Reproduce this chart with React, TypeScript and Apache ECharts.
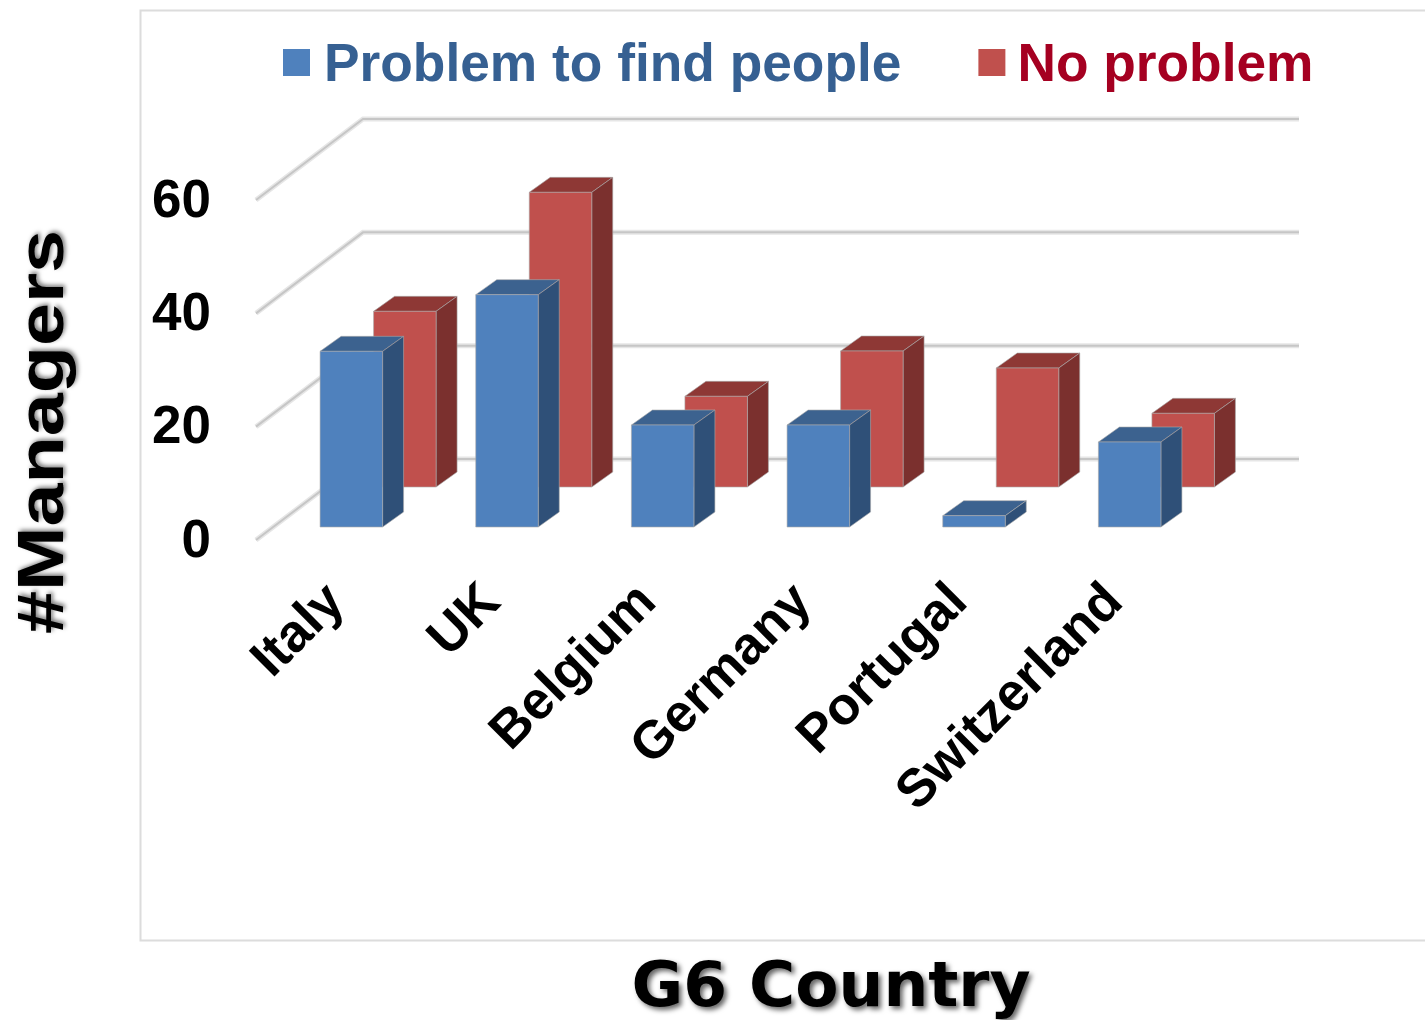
import React, { useEffect, useRef } from "react";
import * as echarts from "echarts";

const categories = ["Italy", "UK", "Belgium", "Germany", "Portugal", "Switzerland"];
const problemValues = [31, 41, 18, 18, 2, 15];
const noProblemValues = [31, 52, 16, 24, 21, 13];
const gridTicks = [0, 20, 40, 60];
const seriesProblem = "Problem to find people";
const seriesNoProblem = "No problem";

const SANS = "'Liberation Sans', Arial, sans-serif";

function cuboid(
  offsetX: number,
  offsetY: number,
  colors: { front: string; top: string; side: string },
) {
  const W = 62.5;
  const DX = 21;
  const DY = -15;
  return (_: any, api: any) => {
    const base = api.coord([api.value(0), 0]);
    const head = api.coord([api.value(0), api.value(1)]);
    const l = base[0] + offsetX - W / 2;
    const r = l + W;
    const b = base[1] + offsetY;
    const t = head[1] + offsetY;
    const edge = { stroke: "rgba(170,170,170,0.6)", lineWidth: 1 };
    return {
      type: "group",
      children: [
        {
          type: "polygon",
          shape: { points: [[l, t], [r, t], [r + DX, t + DY], [l + DX, t + DY]] },
          style: { fill: colors.top, ...edge },
        },
        {
          type: "polygon",
          shape: { points: [[r, t], [r + DX, t + DY], [r + DX, b + DY], [r, b]] },
          style: { fill: colors.side, ...edge },
        },
        {
          type: "rect",
          shape: { x: l, y: t, width: W, height: b - t },
          style: { fill: colors.front, ...edge },
        },
      ],
    };
  };
}

function wallLine(_: any, api: any) {
  const p = api.coord([0, api.value(0)]);
  const x0 = 256;
  const y0 = p[1];
  const pts = [[x0, y0], [x0 + 107, y0 - 81], [1299, y0 - 81]];
  return {
    type: "group",
    children: [
      { type: "polyline", shape: { points: pts }, style: { fill: "none", stroke: "#E6E6E6", lineWidth: 5 } },
      { type: "polyline", shape: { points: pts }, style: { fill: "none", stroke: "#C6C6C6", lineWidth: 2 } },
    ],
  };
}

export default function App() {
  const ref = useRef<HTMLDivElement>(null);
  useEffect(() => {
    const chart = echarts.init(ref.current!, undefined, { renderer: "svg" });
    chart.setOption({
      animation: false,
      backgroundColor: "#FFFFFF",
      grid: { left: 256, top: 200, width: 934, height: 340, containLabel: false },
      legend: {
        left: 278,
        top: 31,
        itemWidth: 27,
        itemHeight: 27,
        itemGap: 77,
        icon: "rect",
        selectedMode: false,
        data: [
          { name: seriesProblem, textStyle: { color: "#366092" } },
          { name: seriesNoProblem, textStyle: { color: "#A50021", padding: [0, 0, 0, 7] } },
        ],
        textStyle: { fontFamily: SANS, fontSize: 53.3, fontWeight: "bold", padding: [0, 0, 0, 9] },
      },
      xAxis: {
        type: "category",
        data: categories,
        axisLine: { show: false },
        axisTick: { show: false },
        splitLine: { show: false },
        axisLabel: {
          rotate: 45,
          interval: 0,
          margin: 51,
          color: "#000000",
          fontFamily: SANS,
          fontSize: 53,
          fontWeight: "bold",
        },
      },
      yAxis: {
        type: "value",
        min: 0,
        max: 60,
        interval: 20,
        axisLine: { show: false },
        axisTick: { show: false },
        splitLine: { show: false },
        axisLabel: {
          margin: 45,
          formatter: "{t|{value}}",
          rich: {
            t: {
              color: "#000000",
              fontFamily: SANS,
              fontSize: 53,
              fontWeight: "bold",
              padding: [0, 0, 4, 0],
            },
          },
        },
      },
      graphic: [
        {
          type: "polyline",
          silent: true,
          z: -1,
          shape: { points: [[1425, 10.5], [140.5, 10.5], [140.5, 940.5], [1425, 940.5]] },
          style: { fill: "none", stroke: "#DCDCDC", lineWidth: 2 },
        },
        {
          type: "text",
          x: 40,
          y: 432,
          rotation: Math.PI / 2,
          scaleX: 1.19,
          style: {
            text: "#Managers",
            font: `bold 65px ${SANS}`,
            fill: "#000000",
            align: "center",
            verticalAlign: "middle",
            textShadowColor: "rgba(0,0,0,0.5)",
            textShadowBlur: 4,
            textShadowOffsetX: 2,
            textShadowOffsetY: 2,
          },
        },
        {
          type: "text",
          x: 831,
          y: 984,
          style: {
            text: "G6 Country",
            font: "bold 63px 'DejaVu Sans', Verdana, sans-serif",
            fill: "#000000",
            align: "center",
            verticalAlign: "middle",
            textShadowColor: "rgba(0,0,0,0.6)",
            textShadowBlur: 5,
            textShadowOffsetX: 3,
            textShadowOffsetY: 3,
          },
        },
      ],
      series: [
        {
          type: "custom",
          name: "walls",
          silent: true,
          clip: false,
          coordinateSystem: "cartesian2d",
          data: gridTicks.map((v) => [v]),
          encode: { y: 0 },
          renderItem: wallLine,
          z: 1,
        },
        {
          type: "custom",
          name: seriesNoProblem,
          clip: false,
          itemStyle: { color: "#C0504D" },
          data: categories.map((_, i) => [i, noProblemValues[i]]),
          encode: { x: 0, y: 1 },
          renderItem: cuboid(71, -53, { front: "#C0504D", top: "#8E3835", side: "#7B302E" }),
          z: 2,
        },
        {
          type: "custom",
          name: seriesProblem,
          clip: false,
          itemStyle: { color: "#4F81BD" },
          data: categories.map((_, i) => [i, problemValues[i]]),
          encode: { x: 0, y: 1 },
          renderItem: cuboid(17.5, -13, { front: "#4F81BD", top: "#3C628F", side: "#2F5078" }),
          z: 3,
        },
      ],
    });
    return () => chart.dispose();
  }, []);
  return <div ref={ref} style={{ position: "absolute", left: 0, top: 0, width: 1425, height: 1020 }} />;
}
